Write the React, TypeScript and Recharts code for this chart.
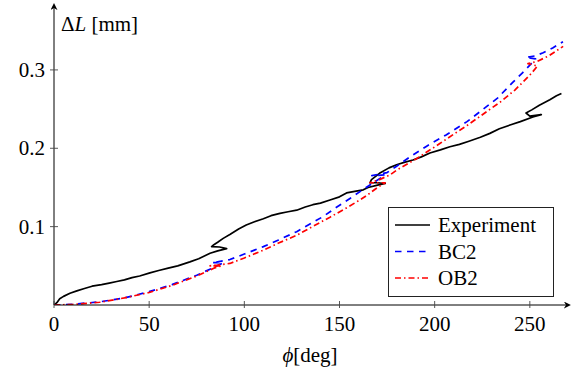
import React from 'react';
import { LineChart, Line, XAxis, YAxis, Legend } from 'recharts';

const FONT = '"Liberation Serif", "DejaVu Serif", serif';
const FONT_SIZE = 21;

// force the serif font even if a stylesheet rule tries to override it
const serifRef = (el: SVGTextElement | null) => {
  if (el) {
    el.style.setProperty('font-family', FONT, 'important');
    el.style.setProperty('font-size', FONT_SIZE + 'px', 'important');
  }
};

// tick labels
const xTicks = [0, 50, 100, 150, 200, 250];
const yTicks = [0.1, 0.2, 0.3];

// [phi (deg), ΔL (mm)]
const experiment: [number, number][] = [
  [0, 0], [1.5, 0.003], [3, 0.008], [5, 0.011], [8.4, 0.015], [12, 0.018], [16, 0.021],
  [20, 0.024], [25, 0.026], [29, 0.028], [33, 0.03], [37, 0.032], [41, 0.035], [45, 0.037],
  [50.4, 0.041], [55, 0.044], [60, 0.047], [65, 0.05], [71.4, 0.055], [76, 0.059], [82, 0.066],
  [86, 0.069], [90.7, 0.072], [87, 0.074], [82.8, 0.0745], [84, 0.077], [86, 0.08], [88.9, 0.085],
  [92.4, 0.09], [97, 0.097], [101, 0.102], [105, 0.106], [110, 0.11], [114, 0.114],
  [118.7, 0.117], [123, 0.119], [127.5, 0.121], [132, 0.125], [136, 0.128], [140, 0.13],
  [145, 0.134], [150, 0.138], [153.7, 0.143], [158, 0.145], [162.5, 0.147], [165, 0.15],
  [170, 0.153], [174, 0.155], [170, 0.156], [166, 0.156], [166.8, 0.16], [171, 0.168],
  [176, 0.175], [180, 0.179], [184, 0.182], [188.6, 0.185], [193, 0.189], [197.5, 0.194],
  [203, 0.198], [208, 0.202], [213, 0.205], [218, 0.209], [224, 0.214], [229, 0.219],
  [234, 0.225], [240, 0.23], [245, 0.234], [251.6, 0.24], [256, 0.243], [253, 0.242],
  [250, 0.241], [248, 0.245], [251, 0.249], [255, 0.255], [260.5, 0.262], [264, 0.267],
  [266.6, 0.27],
];

const bc2: [number, number][] = [
  [0, 0], [10, 0.001], [24, 0.004], [37, 0.009], [50, 0.017], [62, 0.026], [75, 0.038],
  [84, 0.048], [89, 0.054], [83, 0.054], [88, 0.056], [92.4, 0.058], [100, 0.065],
  [110, 0.0745], [118, 0.083], [127.5, 0.0936], [135, 0.104], [141.5, 0.113], [148, 0.124],
  [155.5, 0.136], [164, 0.15], [169, 0.158], [174, 0.166], [167, 0.165], [175, 0.169],
  [180, 0.177], [187, 0.189], [196, 0.203], [206, 0.217], [217, 0.234], [224, 0.247],
  [233, 0.264], [241, 0.284], [246, 0.296], [250, 0.306], [253, 0.314], [248, 0.316],
  [253, 0.318], [257, 0.322], [262, 0.328], [267.4, 0.336],
];

const ob2: [number, number][] = [
  [0, 0], [10, 0.0007], [24, 0.0035], [37, 0.009], [50, 0.016], [62, 0.025], [75, 0.037],
  [84, 0.047], [88, 0.05], [82, 0.05], [86, 0.051], [92.4, 0.053], [100, 0.06], [110, 0.07],
  [118, 0.079], [127.5, 0.089], [135, 0.099], [145, 0.112], [153, 0.123], [160.7, 0.134],
  [165, 0.141], [170, 0.15], [174, 0.156], [166, 0.156], [171, 0.16], [176.5, 0.166],
  [180, 0.172], [190, 0.186], [202.7, 0.206], [210, 0.218], [217, 0.229], [224, 0.241],
  [235, 0.26], [242, 0.274], [247, 0.286], [251, 0.296], [254, 0.305], [249, 0.308],
  [254, 0.311], [260, 0.318], [267.5, 0.33],
];

const seriesNames = ['Experiment', 'BC2', 'OB2'];
const seriesData = [experiment, bc2, ob2].map((s) => s.map(([phi, dL]) => ({ phi, dL })));
const seriesColors = ['#000000', '#0000ff', '#ff0000'];
const seriesDash = [undefined, '6.5 5.5', '6 3 1.5 3'];

const XTick = (props: any) => {
  const { x, y, payload } = props;
  return (
    <g>
      <line x1={x} x2={x} y1={y - 4} y2={y + 3} stroke="#444" strokeWidth={0.9} />
      <text ref={serifRef} x={x} y={y + 26} textAnchor="middle" fontFamily={FONT} fontSize={FONT_SIZE} fill="#000">
        {payload.value}
      </text>
    </g>
  );
};

const YTick = (props: any) => {
  const { x, y, payload } = props;
  return (
    <g>
      <line x1={x - 4} x2={x + 4} y1={y} y2={y} stroke="#444" strokeWidth={0.9} />
      <text ref={serifRef} x={x - 9} y={y + 7} textAnchor="end" fontFamily={FONT} fontSize={FONT_SIZE} fill="#000">
        {payload.value.toFixed(1)}
      </text>
    </g>
  );
};

const YLabel = (props: any) => {
  const vb = props.viewBox || { x: 0, y: 8, width: 54, height: 297 };
  return (
    <text ref={serifRef} x={vb.x + vb.width + 7} y={vb.y + 23} fontFamily={FONT} fontSize={FONT_SIZE} fill="#000">
      <tspan>Δ</tspan>
      <tspan fontStyle="italic">L</tspan>
      <tspan>{' [mm]'}</tspan>
    </text>
  );
};

const XLabel = (props: any) => {
  const vb = props.viewBox || { x: 54, y: 305, width: 512, height: 67 };
  return (
    <text ref={serifRef} x={vb.x + vb.width / 2} y={vb.y + 57} textAnchor="middle" fontFamily={FONT} fontSize={FONT_SIZE} fill="#000">
      <tspan fontStyle="italic">ϕ</tspan>
      <tspan>[deg]</tspan>
    </text>
  );
};

const LegendBox = () => {
  const rowY = [18, 44.5, 71];
  return (
    <svg width={166} height={90} style={{ display: 'block' }}>
      <rect x={0.5} y={0.5} width={165} height={89} fill="#fff" stroke="#222" strokeWidth={1} />
      {seriesNames.map((name, i) => (
        <g key={name}>
          <line
            x1={7}
            x2={42}
            y1={rowY[i]}
            y2={rowY[i]}
            stroke={seriesColors[i]}
            strokeWidth={1.7}
            strokeDasharray={seriesDash[i]}
          />
          <text ref={serifRef} x={50} y={rowY[i] + 7} fontFamily={FONT} fontSize={FONT_SIZE} fill="#000">
            {name}
          </text>
        </g>
      ))}
    </svg>
  );
};

export default function App() {
  return (
    <div style={{ position: 'absolute', left: 0, top: 0, width: 574, height: 372, background: '#fff' }}>
      <svg width={0} height={0} style={{ position: 'absolute' }}>
        <defs>
          <marker
            id="axArrow"
            viewBox="0 0 10 10"
            refX="3"
            refY="5"
            markerWidth="7"
            markerHeight="7"
            markerUnits="userSpaceOnUse"
            orient="auto-start-reverse"
          >
            <path d="M0,0 L10,5 L0,10 L3,5 z" fill="#000" />
          </marker>
        </defs>
      </svg>
      <LineChart width={574} height={372} margin={{ top: 8, right: 8, bottom: 0, left: 0 }}>
        <XAxis
          type="number"
          dataKey="phi"
          domain={[0, 269]}
          ticks={xTicks}
          interval={0}
          allowDataOverflow
          height={67}
          axisLine={{ stroke: '#000', strokeWidth: 1, markerEnd: 'url(#axArrow)' }}
          tickLine={false}
          tickSize={0}
          tickMargin={0}
          tick={<XTick />}
          label={{ content: XLabel }}
        />
        <YAxis
          type="number"
          domain={[0, 0.379]}
          ticks={yTicks}
          interval={0}
          allowDataOverflow
          width={54}
          axisLine={{ stroke: '#000', strokeWidth: 1, markerStart: 'url(#axArrow)' }}
          tickLine={false}
          tickSize={0}
          tickMargin={0}
          tick={<YTick />}
          label={{ content: YLabel }}
        />
        <Legend
          layout="vertical"
          align="center"
          verticalAlign="middle"
          wrapperStyle={{ position: 'absolute', left: 388, top: 207, width: 166, height: 90 }}
          content={() => <LegendBox />}
        />
        {seriesNames.map((name, i) => (
          <Line
            key={name}
            name={name}
            data={seriesData[i]}
            dataKey="dL"
            type="linear"
            stroke={seriesColors[i]}
            strokeWidth={1.7}
            strokeDasharray={seriesDash[i]}
            strokeLinejoin="round"
            dot={false}
            activeDot={false}
            isAnimationActive={false}
          />
        ))}
      </LineChart>
    </div>
  );
}
